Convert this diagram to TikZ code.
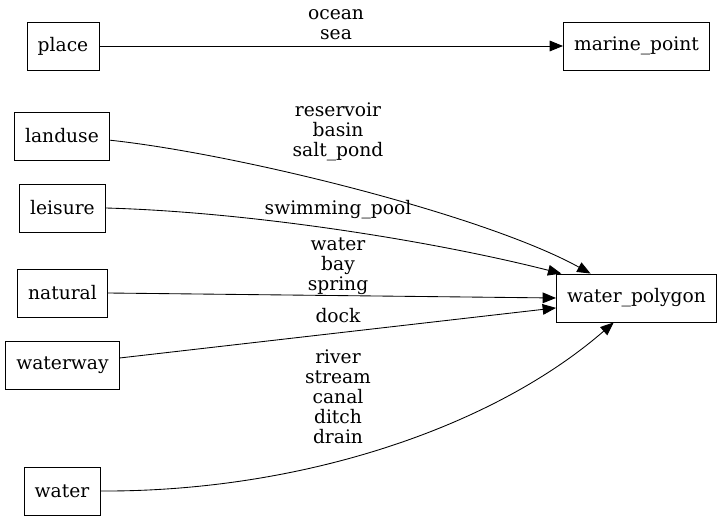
\documentclass[tikz,border=0pt]{standalone}
\usepackage{fontspec}
\setmainfont{DejaVu Serif}
\usetikzlibrary{arrows.meta}
\tikzset{
  box/.style={draw,line width=0.65pt,minimum width=54pt,minimum height=36pt,inner xsep=8pt},
  edge/.style={-{Triangle[length=10pt,width=8pt]},line width=0.65pt},
  lbl/.style={align=center,inner sep=0pt}
}
\begin{document}
\begin{tikzpicture}[x=0.75pt,y=-0.75pt,font=\fontsize{14}{15}\selectfont]
  \useasboundingbox (0,0) rectangle (723,520);
  % sources on the left, targets on the right
  \foreach \x/\y/\nm/\lab in {63/46/place/place,636.5/46/marine/marine\_point,
      62/136/landuse/landuse,62.5/208/leisure/leisure,62.5/293/natural/natural,
      62.5/365/waterway/waterway,62/491/water/water,636.5/298/wpoly/water\_polygon}
    \node[box] (\nm) at (\x,\y) {\lab};
  \draw[edge] (place.east) -- (marine.west);
  \draw[edge] (landuse.-5) .. controls +(130,14) and +(-105,-58) .. (wpoly.152.5);
  \draw[edge] (leisure.east) .. controls +(144,4) and +(-130,-33) .. (wpoly.162);
  \draw[edge] (natural.east) -- (wpoly.west);
  \draw[edge] (waterway.7) -- (wpoly.187);
  \draw[edge] (water.east) .. controls +(199,1) and +(-122,106) .. (wpoly.227);
  % edge labels
  \node[lbl] (lbmarine) at (336,25) {ocean\\sea};
  \node[lbl] (lbland) at (338,132) {reservoir\\basin\\salt\_pond};
  \node[lbl] (lbleis) at (338,210) {swimming\_pool};
  \node[lbl] (lbnat) at (338,266) {water\\bay\\spring};
  \node[lbl] (lbway) at (338,316) {dock};
  \node[lbl] (lbwater) at (338,397) {river\\stream\\canal\\ditch\\drain};
\end{tikzpicture}
\end{document}
